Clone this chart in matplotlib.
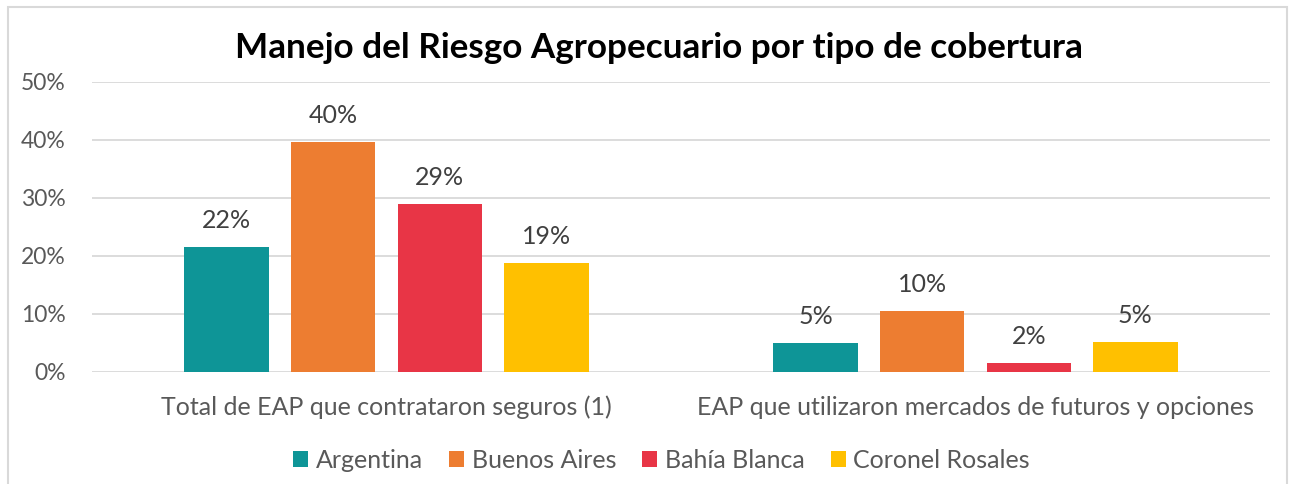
import matplotlib
matplotlib.use("Agg")
import matplotlib.pyplot as plt
import numpy as np
from matplotlib.patches import Rectangle, Patch

categories = ["Total de EAP que contrataron seguros (1)",
              "EAP que utilizaron mercados de futuros y opciones"]
series = ["Argentina", "Buenos Aires", "Bahía Blanca", "Coronel Rosales"]
argentina = [21.6, 5.0]
buenos_aires = [39.7, 10.5]
bahia_blanca = [29.0, 1.5]
coronel_rosales = [18.8, 5.2]
labels_arg = ["22%", "5%"]
labels_ba = ["40%", "10%"]
labels_bb = ["29%", "2%"]
labels_cr = ["19%", "5%"]
yticks = [0, 10, 20, 30, 40, 50]
title = "Manejo del Riesgo Agropecuario por tipo de cobertura"

colors = ["#0E9597", "#ED7D31", "#E83546", "#FFC000"]
values = [argentina, buenos_aires, bahia_blanca, coronel_rosales]
labels = [labels_arg, labels_ba, labels_bb, labels_cr]

FONT = "Lato"
W, H = 1293, 484
fig = plt.figure(figsize=(W / 100, H / 100), dpi=100)
ax = fig.add_axes([92 / W, 1 - 372 / H, (1270 - 92) / W, (372 - 82) / H])

x = np.arange(len(categories))
bw = 0.143
step = 0.181
for i, (vals, col, labs) in enumerate(zip(values, colors, labels)):
    pos = x + (i - 1.5) * step
    bars = ax.bar(pos, vals, width=bw, color=col, zorder=3, label=series[i])
    for b, lab in zip(bars, labs):
        ax.text(b.get_x() + b.get_width() / 2, b.get_height() + 2.6, lab,
                ha="center", va="bottom", fontsize=18, color="#404040",
                family=FONT)

ax.set_xlim(-0.5, 1.5)
ax.set_ylim(0, 50)
ax.set_yticks(yticks)
ax.set_yticklabels([f"{t}%" for t in yticks], fontsize=16.5, color="#595959",
                   family=FONT)
ax.set_xticks(x)
ax.set_xticklabels(categories, fontsize=18, color="#595959", family=FONT)
ax.tick_params(axis="both", length=0)
ax.tick_params(axis="y", pad=19)
ax.tick_params(axis="x", pad=17)
ax.grid(axis="y", color="#D9D9D9", linewidth=1.3, zorder=0)
for s in ax.spines.values():
    s.set_visible(False)

fig.text(658.5 / W, 1 - 48 / H, title, ha="center", va="center", fontsize=25.3,
         fontweight="bold", family=FONT, color="black")

handles = [Patch(facecolor=c, edgecolor="none") for c in colors]
fig.legend(handles, series, loc="center", bbox_to_anchor=(661.5 / W, 1 - 460 / H),
           ncol=4, frameon=False, prop={"family": FONT, "size": 18},
           labelcolor="#595959", handlelength=0.6, handleheight=0.6,
           handletextpad=0.3, columnspacing=1.05)

fig.patches.append(Rectangle((7.5 / W, -0.1), (1286.5 - 7.5) / W,
                             1.1 - 7.5 / H, transform=fig.transFigure,
                             fill=False, edgecolor="#D9D9D9", linewidth=1.5))

fig.savefig("out.png", dpi=100)
